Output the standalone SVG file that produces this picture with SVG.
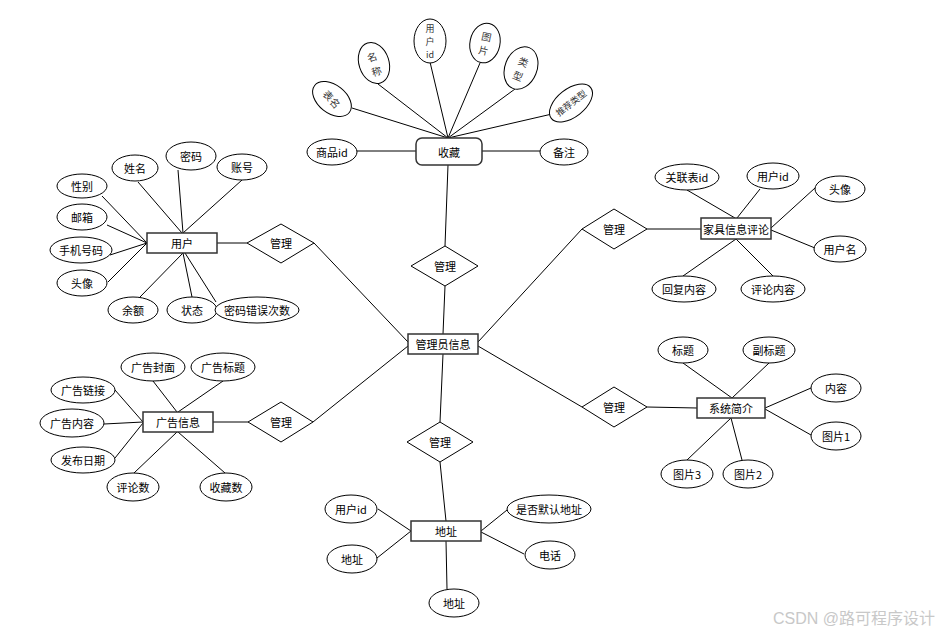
<svg xmlns="http://www.w3.org/2000/svg" width="947" height="634" viewBox="0 0 947 634">
<style>
text{font-family:"Noto Sans CJK SC","Liberation Sans",sans-serif;font-size:11px;fill:#000;text-anchor:middle;dominant-baseline:central}
text.s{font-size:10px;fill:#333}
text.xs{font-size:9px;fill:#333}
.e{fill:#fff;stroke:#000;stroke-width:1}
.r{fill:#fff;stroke:#333;stroke-width:1.5}
.d{fill:#fff;stroke:#000;stroke-width:1}
#connectors line{stroke:#000;stroke-width:1}
text.wm{fill:#c8c8c8;font-size:16px;font-family:"Liberation Sans","Noto Sans CJK SC",sans-serif;text-anchor:start}
</style>
<rect width="947" height="634" fill="#fff"/>
<g id="connectors">
<line x1="352" y1="108" x2="448" y2="138"/>
<line x1="378" y1="84" x2="448" y2="138"/>
<line x1="430" y1="62" x2="448" y2="138"/>
<line x1="480" y1="63" x2="448" y2="138"/>
<line x1="515" y1="89" x2="448" y2="138"/>
<line x1="552" y1="114" x2="448" y2="138"/>
<line x1="357" y1="151" x2="416" y2="151"/>
<line x1="482" y1="151" x2="540" y2="151"/>
<line x1="448" y1="165" x2="445" y2="246"/>
<line x1="445" y1="286" x2="443" y2="334"/>
<line x1="443" y1="354" x2="440" y2="422"/>
<line x1="440" y1="462" x2="446" y2="521"/>
<line x1="408" y1="342" x2="314" y2="243"/>
<line x1="408" y1="346" x2="313" y2="422"/>
<line x1="478" y1="342" x2="582" y2="229"/>
<line x1="478" y1="346" x2="582" y2="407"/>
<line x1="217" y1="243" x2="247" y2="243"/>
<line x1="138" y1="182" x2="182" y2="233"/>
<line x1="178" y1="170" x2="183" y2="233"/>
<line x1="242" y1="180" x2="183" y2="233"/>
<line x1="102" y1="196" x2="147" y2="243"/>
<line x1="107" y1="225" x2="147" y2="243"/>
<line x1="110" y1="255" x2="147" y2="243"/>
<line x1="108" y1="282" x2="147" y2="243"/>
<line x1="140" y1="297" x2="183" y2="253"/>
<line x1="192" y1="297" x2="183" y2="253"/>
<line x1="216" y1="302" x2="185" y2="253"/>
<line x1="212" y1="422" x2="248" y2="422"/>
<line x1="153" y1="381" x2="177" y2="412"/>
<line x1="223" y1="381" x2="178" y2="412"/>
<line x1="115" y1="390" x2="143" y2="422"/>
<line x1="104" y1="424" x2="143" y2="422"/>
<line x1="115" y1="458" x2="143" y2="423"/>
<line x1="134" y1="473" x2="177" y2="432"/>
<line x1="225" y1="473" x2="178" y2="432"/>
<line x1="647" y1="229" x2="701" y2="229"/>
<line x1="687" y1="190" x2="735" y2="218"/>
<line x1="760" y1="189" x2="737" y2="218"/>
<line x1="815" y1="188" x2="771" y2="228"/>
<line x1="815" y1="248" x2="771" y2="230"/>
<line x1="683" y1="276" x2="736" y2="239"/>
<line x1="773" y1="276" x2="736" y2="239"/>
<line x1="647" y1="407" x2="697" y2="408"/>
<line x1="683" y1="363" x2="732" y2="398"/>
<line x1="769" y1="363" x2="732" y2="398"/>
<line x1="811" y1="388" x2="765" y2="408"/>
<line x1="811" y1="435" x2="765" y2="409"/>
<line x1="687" y1="460" x2="731" y2="418"/>
<line x1="742" y1="460" x2="731" y2="418"/>
<line x1="378" y1="509" x2="411" y2="531"/>
<line x1="377" y1="558" x2="411" y2="531"/>
<line x1="507" y1="510" x2="481" y2="531"/>
<line x1="524" y1="554" x2="481" y2="532"/>
<line x1="446" y1="541" x2="447" y2="589"/>
</g>

<g id="collect"><rect class="r" x="416" y="138" width="66" height="27" rx="6"/><text x="449" y="152">收藏</text></g>
<g id="c-goodsid"><ellipse class="e" cx="332" cy="152" rx="25" ry="13"/><text x="332" y="152">商品id</text></g>
<g id="c-remark"><ellipse class="e" cx="564" cy="152" rx="24" ry="13"/><text x="564" y="152">备注</text></g>
<g id="c-tablename" transform="translate(332,99) rotate(38)"><ellipse class="e" cx="0" cy="0" rx="22" ry="14"/><text class="s" x="0" y="0" transform="rotate(10)">表名</text></g>
<g id="c-name" transform="translate(374,63) rotate(-18)"><ellipse class="e" cx="0" cy="0" rx="15" ry="21"/><text class="s" x="0" y="-7">名</text><text class="s" x="0" y="8">称</text></g>
<g id="c-userid"><ellipse class="e" cx="430" cy="41" rx="16" ry="22"/><text class="xs" x="430" y="28">用</text><text class="xs" x="430" y="41">户</text><text class="xs" x="430" y="54">id</text></g>
<g id="c-picture" transform="translate(485,43) rotate(12)"><ellipse class="e" cx="0" cy="0" rx="15" ry="20"/><text class="s" x="0" y="-7">图</text><text class="s" x="0" y="7">片</text></g>
<g id="c-type" transform="translate(521,68) rotate(22)"><ellipse class="e" cx="0" cy="0" rx="16" ry="22"/><text class="s" x="0" y="-7">类</text><text class="s" x="0" y="8">型</text></g>
<g id="c-inteltype" transform="translate(571,103) rotate(-38)"><ellipse class="e" cx="0" cy="0" rx="25" ry="14"/><text class="xs" x="0" y="0">推荐类型</text></g>

<g id="admin"><rect class="r" x="408" y="334" width="70" height="20"/><text x="443" y="344">管理员信息</text></g>
<g id="rel-collect"><polygon class="d" points="445,246 478,266 445,286 411,266"/><text x="445" y="266">管理</text></g>
<g id="rel-address"><polygon class="d" points="440,422 473,442 440,462 407,442"/><text x="440" y="442">管理</text></g>
<g id="rel-user"><polygon class="d" points="281,224 314,243 281,263 247,243"/><text x="281" y="243">管理</text></g>
<g id="rel-ad"><polygon class="d" points="281,402 313,422 281,442 248,422"/><text x="281" y="422">管理</text></g>
<g id="rel-comment"><polygon class="d" points="614,209 647,229 614,249 582,229"/><text x="614" y="229">管理</text></g>
<g id="rel-intro"><polygon class="d" points="614,387 647,407 614,427 582,407"/><text x="614" y="407">管理</text></g>

<g id="user"><rect class="r" x="147" y="233" width="70" height="20"/><text x="182" y="243">用户</text></g>
<g id="u-gender"><ellipse class="e" cx="82" cy="186" rx="25" ry="12"/><text x="82" y="186">性别</text></g>
<g id="u-name"><ellipse class="e" cx="135" cy="168" rx="23" ry="13"/><text x="135" y="168">姓名</text></g>
<g id="u-password"><ellipse class="e" cx="191" cy="156" rx="25" ry="14"/><text x="191" y="156">密码</text></g>
<g id="u-account"><ellipse class="e" cx="242" cy="167" rx="25" ry="13"/><text x="242" y="167">账号</text></g>
<g id="u-email"><ellipse class="e" cx="82" cy="217" rx="25" ry="13"/><text x="82" y="217">邮箱</text></g>
<g id="u-phone"><ellipse class="e" cx="81" cy="250" rx="31" ry="13"/><text x="81" y="250">手机号码</text></g>
<g id="u-avatar"><ellipse class="e" cx="82" cy="283" rx="25" ry="13"/><text x="82" y="283">头像</text></g>
<g id="u-balance"><ellipse class="e" cx="133" cy="310" rx="25" ry="13"/><text x="133" y="310">余额</text></g>
<g id="u-status"><ellipse class="e" cx="192" cy="310" rx="25" ry="13"/><text x="192" y="310">状态</text></g>
<g id="u-errcount"><ellipse class="e" cx="257" cy="310" rx="42" ry="13"/><text x="257" y="310">密码错误次数</text></g>

<g id="ad"><rect class="r" x="143" y="412" width="70" height="20"/><text x="178" y="422">广告信息</text></g>
<g id="a-cover"><ellipse class="e" cx="153" cy="367" rx="32" ry="14"/><text x="153" y="367">广告封面</text></g>
<g id="a-title"><ellipse class="e" cx="223" cy="367" rx="32" ry="14"/><text x="223" y="367">广告标题</text></g>
<g id="a-link"><ellipse class="e" cx="83" cy="390" rx="32" ry="13"/><text x="83" y="390">广告链接</text></g>
<g id="a-content"><ellipse class="e" cx="72" cy="423" rx="32" ry="14"/><text x="72" y="423">广告内容</text></g>
<g id="a-date"><ellipse class="e" cx="83" cy="460" rx="32" ry="13"/><text x="83" y="460">发布日期</text></g>
<g id="a-comments"><ellipse class="e" cx="133" cy="487" rx="26" ry="14"/><text x="133" y="487">评论数</text></g>
<g id="a-collects"><ellipse class="e" cx="226" cy="487" rx="26" ry="14"/><text x="226" y="487">收藏数</text></g>

<g id="comment"><rect class="r" x="701" y="218" width="70" height="21"/><text x="736" y="229">家具信息评论</text></g>
<g id="m-refid"><ellipse class="e" cx="687" cy="177" rx="32" ry="13"/><text x="687" y="177">关联表id</text></g>
<g id="m-userid"><ellipse class="e" cx="773" cy="176" rx="26" ry="13"/><text x="773" y="176">用户id</text></g>
<g id="m-avatar"><ellipse class="e" cx="840" cy="189" rx="25" ry="13"/><text x="840" y="189">头像</text></g>
<g id="m-username"><ellipse class="e" cx="840" cy="249" rx="26" ry="13"/><text x="840" y="249">用户名</text></g>
<g id="m-reply"><ellipse class="e" cx="684" cy="289" rx="32" ry="13"/><text x="684" y="289">回复内容</text></g>
<g id="m-content"><ellipse class="e" cx="773" cy="289" rx="32" ry="13"/><text x="773" y="289">评论内容</text></g>

<g id="intro"><rect class="r" x="697" y="398" width="68" height="20"/><text x="731" y="408">系统简介</text></g>
<g id="i-title"><ellipse class="e" cx="683" cy="350" rx="25" ry="13"/><text x="683" y="350">标题</text></g>
<g id="i-subtitle"><ellipse class="e" cx="769" cy="350" rx="26" ry="13"/><text x="769" y="350">副标题</text></g>
<g id="i-content"><ellipse class="e" cx="836" cy="388" rx="25" ry="14"/><text x="836" y="388">内容</text></g>
<g id="i-pic1"><ellipse class="e" cx="836" cy="436" rx="25" ry="14"/><text x="836" y="436">图片1</text></g>
<g id="i-pic3"><ellipse class="e" cx="687" cy="474" rx="26" ry="14"/><text x="687" y="474">图片3</text></g>
<g id="i-pic2"><ellipse class="e" cx="748" cy="474" rx="25" ry="14"/><text x="748" y="474">图片2</text></g>

<g id="address"><rect class="r" x="411" y="521" width="70" height="20"/><text x="446" y="531">地址</text></g>
<g id="d-userid"><ellipse class="e" cx="351" cy="509" rx="26" ry="14"/><text x="351" y="509">用户id</text></g>
<g id="d-addr1"><ellipse class="e" cx="352" cy="559" rx="25" ry="14"/><text x="352" y="559">地址</text></g>
<g id="d-default"><ellipse class="e" cx="549" cy="509" rx="42" ry="14"/><text x="549" y="509">是否默认地址</text></g>
<g id="d-phone"><ellipse class="e" cx="550" cy="555" rx="25" ry="14"/><text x="550" y="555">电话</text></g>
<g id="d-addr2"><ellipse class="e" cx="454" cy="603" rx="25" ry="14"/><text x="454" y="603">地址</text></g>

<text class="wm" x="773" y="618">CSDN @路可程序设计</text>
</svg>
